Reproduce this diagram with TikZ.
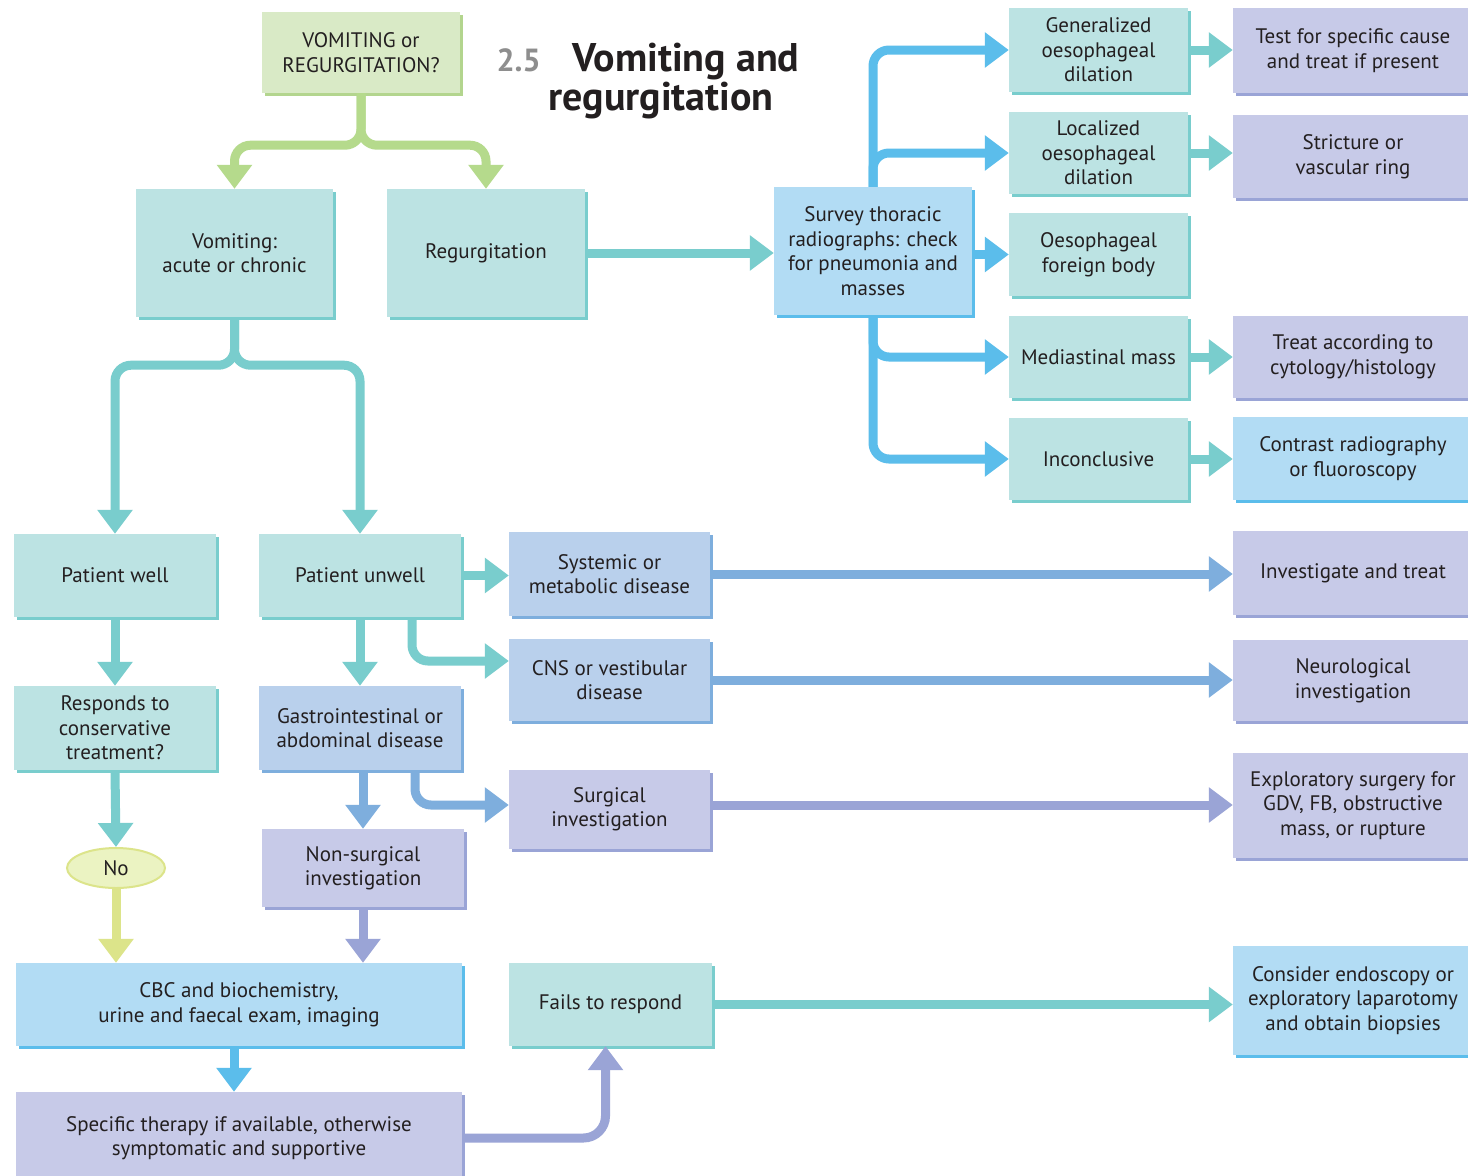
\documentclass[tikz,border=0pt]{standalone}
\usepackage{fontspec}
\setmainfont{PT Sans}
\usetikzlibrary{arrows.meta,shadows,calc,shapes.geometric}

\definecolor{ink}{HTML}{231F20}
\definecolor{grnfill}{HTML}{D9EAC6}
\definecolor{grnedge}{HTML}{B3D58E}
\definecolor{grnarrow}{HTML}{B5DA8C}
\definecolor{tealfill}{HTML}{BCE3E3}
\definecolor{tealedge}{HTML}{79CDCD}
\definecolor{bluefill}{HTML}{B2DCF4}
\definecolor{blueedge}{HTML}{5BBDEB}
\definecolor{perifill}{HTML}{B9D0EC}
\definecolor{periedge}{HTML}{7EAEDD}
\definecolor{lavfill}{HTML}{C7CAE8}
\definecolor{lavedge}{HTML}{9AA4D6}
\definecolor{nofill}{HTML}{EBF3C2}
\definecolor{noedge}{HTML}{DCE48A}
\definecolor{numgrey}{HTML}{8E8E8E}

\tikzset{
  box/.style={rectangle, inner sep=0pt, align=center, text=ink,
    font=\fontsize{21}{24.5}\selectfont},
  sz/.style 2 args={minimum width=#1pt, minimum height=#2pt},
  greenbox/.style={box, fill=grnfill, general shadow={fill=grnedge, shadow xshift=3pt, shadow yshift=-3pt}},
  tealbox/.style={box, fill=tealfill, general shadow={fill=tealedge, shadow xshift=3pt, shadow yshift=-3pt}},
  bluebox/.style={box, fill=bluefill, general shadow={fill=blueedge, shadow xshift=3pt, shadow yshift=-3pt}},
  peribox/.style={box, fill=perifill, general shadow={fill=periedge, shadow xshift=3pt, shadow yshift=-3pt}},
  lavbox/.style={box, fill=lavfill, general shadow={fill=lavedge, shadow xshift=3pt, shadow yshift=-3pt}},
  arr/.style={line width=9pt, rounded corners=16pt, -{Triangle[length=24pt,width=34pt]}},
  ga/.style={arr, draw=grnarrow},
  ta/.style={arr, draw=tealedge},
  ba/.style={arr, draw=blueedge},
  pa/.style={arr, draw=periedge},
  la/.style={arr, draw=lavedge},
  ya/.style={arr, draw=noedge},
  titletext/.style={anchor=base west, text=ink, font=\fontsize{40}{42}\selectfont\bfseries},
}

\begin{document}
\begin{tikzpicture}[x=1pt, y=-1pt]
\useasboundingbox[fill=white] (0,0) rectangle (1468,1176);

% title
\node[anchor=base west, text=numgrey, font=\fontsize{32}{34}\selectfont\bfseries] (tnum) at (493,71) {2.5};
\node[titletext] (t1) at (569,71) {Vomiting and};
\node[titletext] (t2) at (545,110) {regurgitation};

% top of the tree
\node[greenbox, sz={198}{81}] (vr) at (361,52.5) {VOMITING or\\REGURGITATION?};
\node[tealbox, sz={197}{128}] (vac) at (234.5,253) {Vomiting:\\acute or chronic};
\node[tealbox, sz={198}{128}] (reg) at (486,253) {Regurgitation};

% regurgitation branch
\node[bluebox, sz={198}{128}] (sur) at (873,251) {Survey thoracic\\radiographs: check\\for pneumonia and\\masses};
\node[tealbox, sz={179}{84}] (gen) at (1098.5,50) {Generalized\\oesophageal\\dilation};
\node[tealbox, sz={179}{82}] (loc) at (1098.5,153) {Localized\\oesophageal\\dilation};
\node[tealbox, sz={179}{83}] (ofb) at (1098.5,254.5) {Oesophageal\\foreign body};
\node[tealbox, sz={179}{82}] (med) at (1098.5,357) {Mediastinal mass};
\node[tealbox, sz={179}{82}] (inc) at (1098.5,459) {Inconclusive};
\node[lavbox, sz={240}{85}] (tst) at (1353,50.5) {Test for specific cause\\and treat if present};
\node[lavbox, sz={240}{83}] (str) at (1353,156.5) {Stricture or\\vascular ring};
\node[lavbox, sz={240}{82}] (trt) at (1353,357) {Treat according to\\cytology/histology};
\node[bluebox, sz={240}{83}] (con) at (1353,458.5) {Contrast radiography\\or fluoroscopy};

% vomiting branch
\node[tealbox, sz={202}{83}] (pw) at (115,575.5) {Patient well};
\node[tealbox, sz={202}{83}] (pu) at (360,575.5) {Patient unwell};
\node[peribox, sz={201}{84}] (sys) at (609.5,574) {Systemic or\\metabolic disease};
\node[peribox, sz={201}{82}] (cns) at (609.5,680) {CNS or vestibular\\disease};
\node[lavbox, sz={240}{84}] (iat) at (1353,573) {Investigate and treat};
\node[lavbox, sz={240}{81}] (neu) at (1353,680.5) {Neurological\\investigation};
\node[tealbox, sz={202}{84}] (res) at (115,728) {Responds to\\conservative\\treatment?};
\node[peribox, sz={202}{84}] (gi) at (360,728) {Gastrointestinal or\\abdominal disease};
\node[lavbox, sz={201}{79}] (sui) at (609.5,809) {Surgical\\investigation};
\node[lavbox, sz={240}{105}] (exs) at (1353,805.5) {Exploratory surgery for\\GDV, FB, obstructive\\mass, or rupture};
\node[ellipse, fill=nofill, draw=noedge, line width=2pt, inner sep=0pt,
      minimum width=98pt, minimum height=40pt, text=ink,
      font=\fontsize{21}{24.5}\selectfont] (no) at (116,868) {No};
\node[lavbox, sz={202}{78}] (ns) at (363,868) {Non-surgical\\investigation};
\node[bluebox, sz={446}{83}] (cbc) at (239,1004.5) {CBC and biochemistry,\\urine and faecal exam, imaging};
\node[tealbox, sz={203}{83}] (ftr) at (610.5,1004.5) {Fails to respond};
\node[bluebox, sz={240}{109}] (cen) at (1353,1000.5) {Consider endoscopy or\\exploratory laparotomy\\and obtain biopsies};
\node[lavbox, sz={446}{92}] (spt) at (239,1138) {Specific therapy if available, otherwise\\symptomatic and supportive};

% fork points
\coordinate (gfork) at ($(vr.south)+(0,52)$);
\coordinate (tfork) at ($(vac.south)+(0,48)$);

% green fork
\draw[ga] (vr.south) -- (gfork) -| (vac.north);
\draw[ga] (vr.south) -- (gfork) -| (reg.north);

% teal fork
\draw[ta] (vac.south) -- (tfork) -| (pw.north);
\draw[ta] (vac.south) -- (tfork) -| (pu.north);

% regurgitation to survey
\draw[ta] (reg.east) -- (reg.east -| sur.west);

% survey branches
\draw[ba] (sur.north) |- (gen.west);
\draw[ba] (sur.north) |- (loc.west);
\draw[ba] (sur.east |- ofb.west) -- (ofb.west);
\draw[ba] (sur.south) |- (med.west);
\draw[ba] (sur.south) |- (inc.west);

% findings to actions
\draw[ta] (gen.east) -- (gen.east -| tst.west);
\draw[ta] (loc.east) -- (loc.east -| str.west);
\draw[ta] (med.east) -- (med.east -| trt.west);
\draw[ta] (inc.east) -- (inc.east -| con.west);

% patient well column
\draw[ta] (pw.south) -- (res.north);
\draw[ta] (res.south) -- (no.north);
\draw[ya] (no.south) -- (no.south |- cbc.north);

% patient unwell
\draw[ta] (pu.east) -- (pu.east -| sys.west);
\draw[ta] ($(pu.south)+(52,0)$) |- ($(cns.west)+(0,-19)$);
\draw[ta] (pu.south) -- (gi.north);
\draw[pa] (sys.east) -- (sys.east -| iat.west);
\draw[pa] (cns.east) -- (cns.east -| neu.west);
\draw[pa] (gi.south -| ns.north) -- (ns.north);
\draw[pa] ($(gi.south)+(55,0)$) |- ($(sui.west)+(0,-4)$);
\draw[la] ($(sui.east)+(0,-4)$) -- ($(sui.east -| exs.west)+(0,-4)$);
\draw[la] (ns.south) -- (ns.south |- cbc.north);

% bottom
\draw[ba] ($(cbc.south)+(-5,0)$) -- ($(cbc.south |- spt.north)+(-5,0)$);
\draw[la, rounded corners=22pt] (spt.east) -| ($(ftr.south)+(-5,0)$);
\draw[ta] (ftr.east) -- (ftr.east -| cen.west);
\end{tikzpicture}
\end{document}
